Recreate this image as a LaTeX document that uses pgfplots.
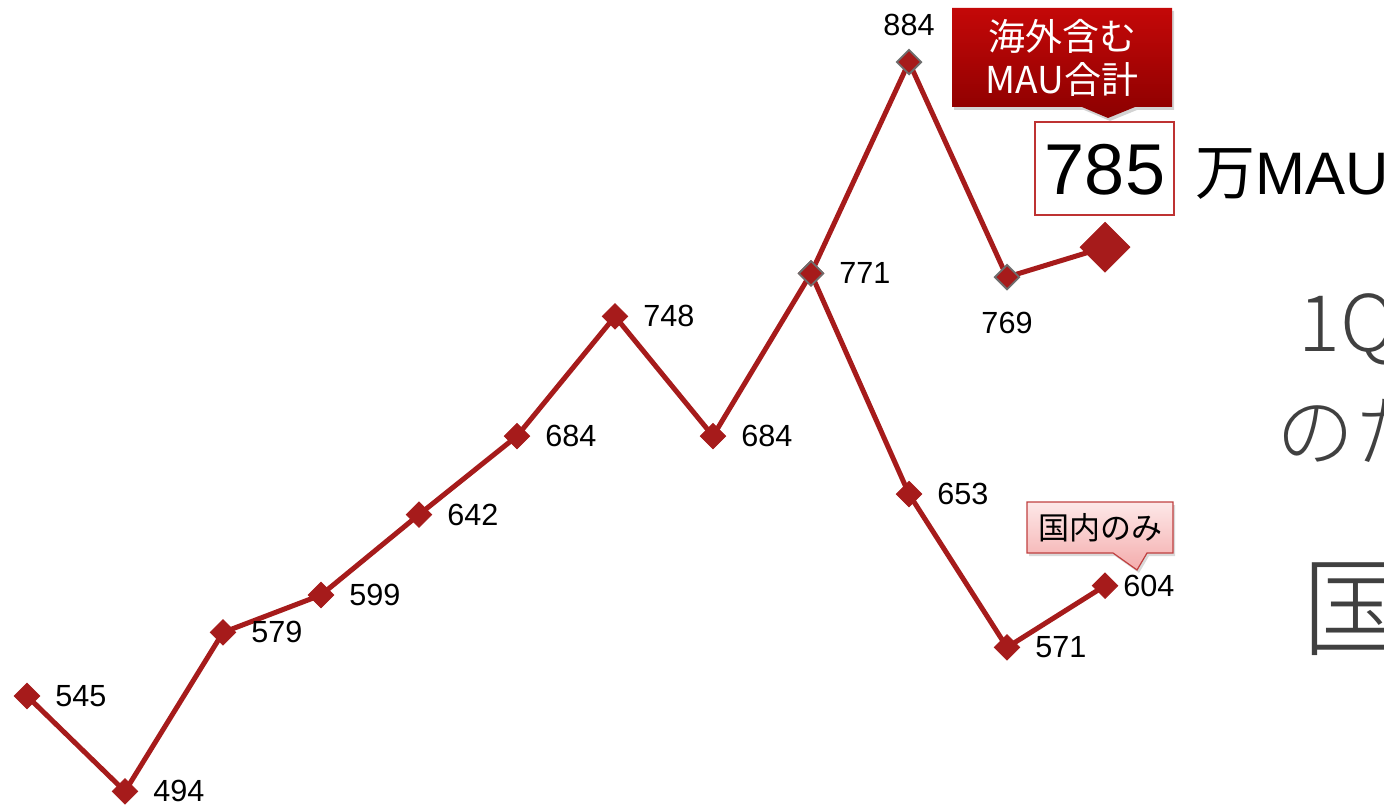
\documentclass[border=0pt]{standalone}
\usepackage{pgfplots}
\pgfplotsset{compat=1.18}
\usepackage{fontspec}
\setmainfont{Liberation Sans}
\newfontfamily\cjk{Noto Sans CJK JP}
\newfontfamily\cjklight{Noto Sans CJK JP Light}
\usetikzlibrary{shadows}
\definecolor{lred}{RGB}{166,27,27}
\definecolor{dgrey}{RGB}{64,64,64}
\definecolor{mgrey}{RGB}{110,110,110}
\begin{document}
\begin{tikzpicture}
\useasboundingbox (0,0) rectangle (692pt,402pt);
\clip (0,0) rectangle (692pt,402pt);
\begin{axis}[at={(0,0)}, anchor=south west, scale only axis,
  width=692pt, height=402pt,
  xmin=-0.2755, xmax=13.847, ymin=487.25, ymax=917.2,
  hide axis, clip=false]
\addplot[lred, line width=2.5pt, mark=square*, mark size=4.5pt,
  mark options={rotate=45, fill=lred, draw=lred, line width=0.4pt}]
  coordinates {(0,545)(1,494)(2,579)(3,599)(4,642)(5,684)(6,748)(7,684)(8,771)(9,653)(10,571)(11,604)};
\addplot[lred, line width=2.5pt] coordinates {(8,771)(9,884)(10,769)(11,785)};
\addplot[only marks, mark=square*, mark size=4.3pt,
  mark options={rotate=45, fill=lred, draw=mgrey, line width=0.9pt}]
  coordinates {(8,771)(9,884)(10,769)};
\addplot[only marks, mark=square*, mark size=8.8pt,
  mark options={rotate=45, fill=lred, draw=lred}]
  coordinates {(11,785)};
\tikzset{lbl/.style={anchor=west, inner sep=0pt, font=\fontsize{15.3}{15.3}\selectfont, xshift=14pt}}
\node[lbl] at (axis cs:0,545) {545};
\node[lbl] at (axis cs:1,494) {494};
\node[lbl] at (axis cs:2,579) {579};
\node[lbl] at (axis cs:3,599) {599};
\node[lbl] at (axis cs:4,642) {642};
\node[lbl] at (axis cs:5,684) {684};
\node[lbl] at (axis cs:6,748) {748};
\node[lbl] at (axis cs:7,684) {684};
\node[lbl] at (axis cs:8,771) {771};
\node[lbl] at (axis cs:9,653) {653};
\node[lbl] at (axis cs:10,571) {571};
\node[lbl, xshift=-5pt] at (axis cs:11,604) {604};
\node[inner sep=0pt, font=\fontsize{15.3}{15.3}\selectfont, anchor=center, yshift=18.5pt] at (axis cs:9,884) {884};
\node[inner sep=0pt, font=\fontsize{15.3}{15.3}\selectfont, anchor=center, yshift=-23pt] at (axis cs:10,769) {769};
\end{axis}
\begin{scope}[x=0.5pt, y=-0.5pt, yshift=402pt]
% red callout
\shade[top color={rgb,255:red,196;green,8;blue,8}, bottom color={rgb,255:red,140;green,0;blue,0},
  drop shadow={opacity=0.35, shadow xshift=1pt, shadow yshift=-1.5pt}]
  (952,8) -- (1172,8) -- (1172,107) -- (1135,107) -- (1108,118) -- (1082,107) -- (952,107) -- cycle;
\node[text=white, align=center, inner sep=0pt, font=\cjk\fontsize{18.5}{21.5}\selectfont] at (1062,58) {海外含む\\MAU合計};
% 785 box
\draw[draw={rgb,255:red,190;green,50;blue,50}, line width=0.75pt, fill=white] (1035,122) rectangle (1174,215);
\node[anchor=base, inner sep=0pt, font=\fontsize{36}{36}\selectfont] at (1105,195) {785};
\node[anchor=base west, inner sep=0pt, font=\fontsize{30}{30}\selectfont] at (1195,195) {{\cjk 万}MAU};
% pink callout
\shade[top color={rgb,255:red,253;green,232;blue,232}, bottom color={rgb,255:red,244;green,172;blue,172},
  drop shadow={opacity=0.3, shadow xshift=1pt, shadow yshift=-1.5pt}]
  (1027,502) -- (1173,502) -- (1173,553) -- (1147,553) -- (1137,570) -- (1113,553) -- (1027,553) -- cycle;
\draw[draw={rgb,255:red,192;green,64;blue,64}, line width=0.6pt]
  (1027,502) -- (1173,502) -- (1173,553) -- (1147,553) -- (1137,570) -- (1113,553) -- (1027,553) -- cycle;
\node[inner sep=0pt, font=\cjk\fontsize{15.5}{15.5}\selectfont] at (1100,528) {国内のみ};
% right grey text
\node[anchor=base west, inner sep=0pt, text=dgrey, font=\cjklight\fontsize{39}{39}\selectfont] at (1298,352) {1Q};
\node[anchor=west, inner sep=0pt, text=dgrey, font=\cjklight\fontsize{39}{39}\selectfont] at (1276,431) {のた};
\node[anchor=west, inner sep=0pt, text=dgrey, font=\cjklight\fontsize{54}{54}\selectfont] at (1302,609) {国};
\end{scope}
\end{tikzpicture}
\end{document}
